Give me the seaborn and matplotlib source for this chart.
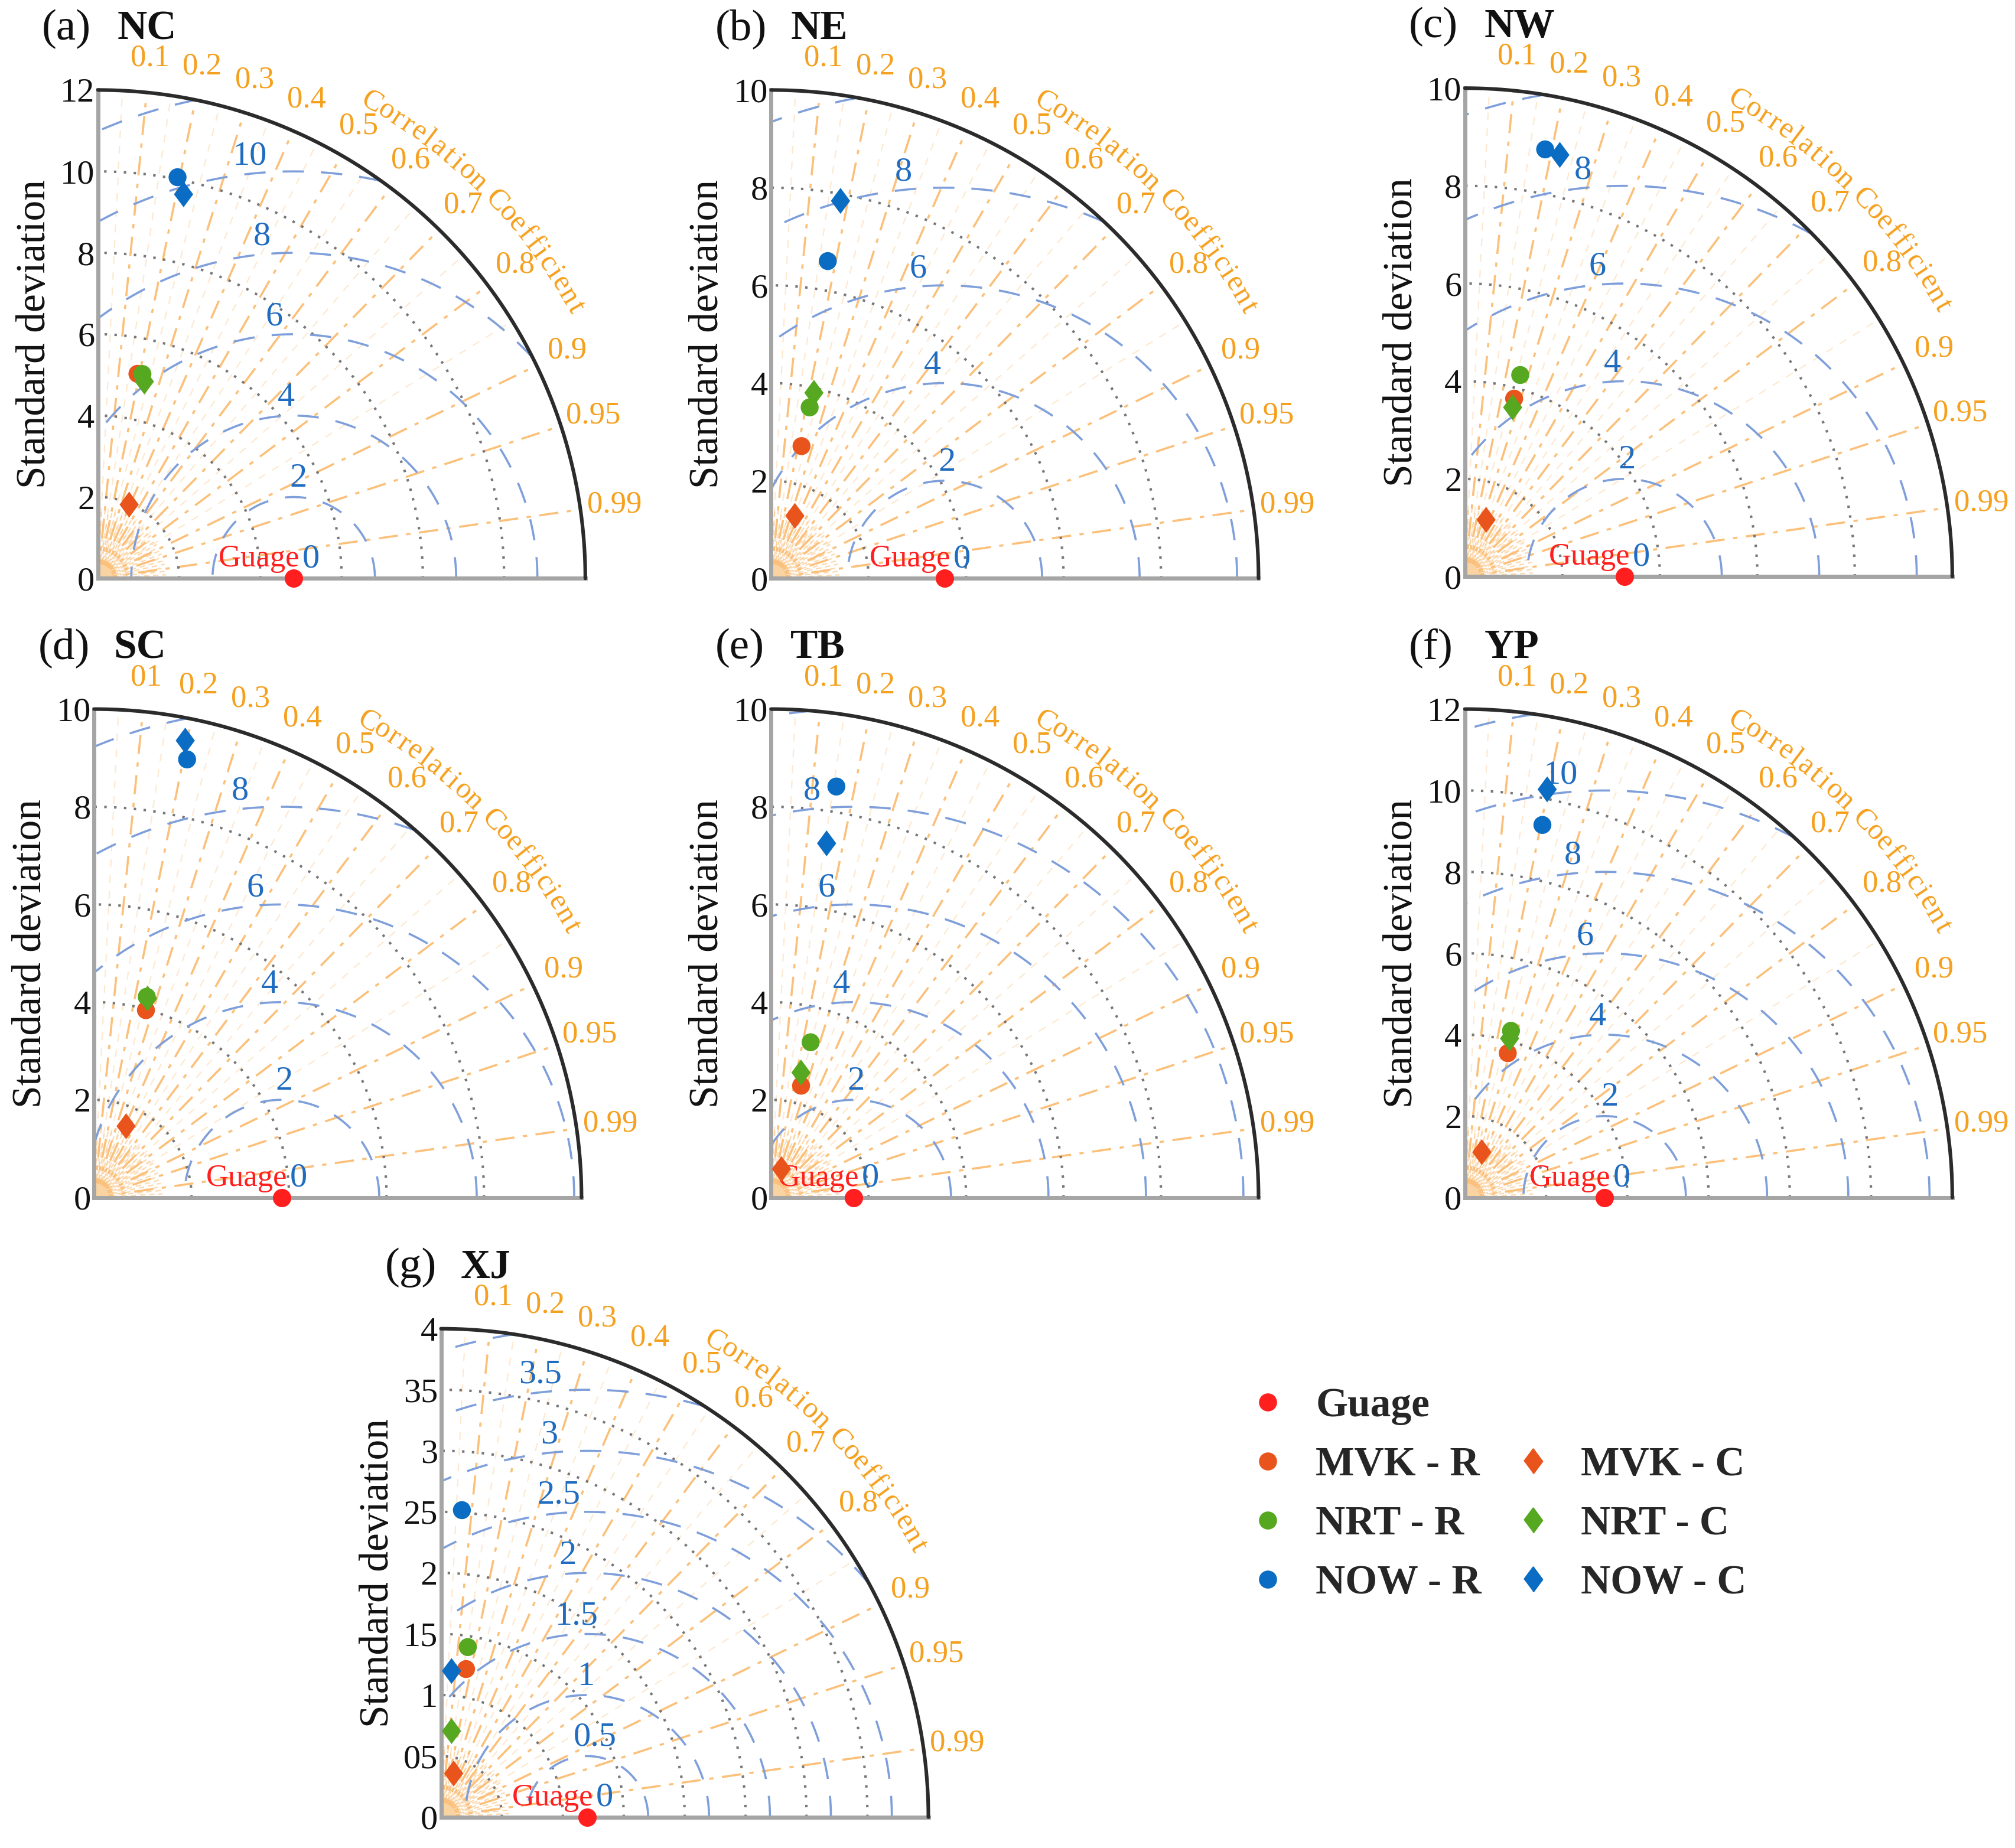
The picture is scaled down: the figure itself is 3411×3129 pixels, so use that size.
import numpy as np
import pandas as pd
import matplotlib
matplotlib.use("Agg")
import matplotlib.pyplot as plt
import seaborn as sns
from matplotlib.lines import Line2D
from matplotlib.textpath import TextPath
from matplotlib.font_manager import FontProperties

# ---- data ----
regions = ["NC", "NE", "NW", "SC", "TB", "YP", "XJ"]
letters = ["a", "b", "c", "d", "e", "f", "g"]
std_max = [12, 10, 10, 10, 10, 12, 4]
tick_step = [2, 2, 2, 2, 2, 2, 0.5]
guage_std = [4.82, 3.56, 3.27, 3.85, 1.69, 3.44, 1.20]

products_r = ["MVK - R", "NRT - R", "NOW - R"]
products_c = ["MVK - C", "NRT - C", "NOW - C"]

mvk_r_std = [5.12, 2.78, 3.78, 3.98, 2.37, 3.70, 1.23]
mvk_r_corr = [0.19, 0.224, 0.267, 0.267, 0.259, 0.285, 0.167]
nrt_r_std = [5.14, 3.59, 4.28, 4.25, 3.28, 4.25, 1.41]
nrt_r_corr = [0.213, 0.22, 0.265, 0.254, 0.247, 0.267, 0.156]
now_r_std = [10.05, 6.60, 8.90, 9.17, 8.52, 9.35, 2.52]
now_r_corr = [0.195, 0.176, 0.185, 0.208, 0.157, 0.204, 0.068]
mvk_c_std = [1.97, 1.37, 1.24, 1.60, 0.62, 1.19, 0.372]
mvk_c_corr = [0.39, 0.355, 0.35, 0.41, 0.34, 0.35, 0.28]
nrt_c_std = [4.97, 3.90, 3.60, 4.22, 2.63, 4.06, 0.71]
nrt_c_corr = [0.23, 0.225, 0.272, 0.26, 0.233, 0.271, 0.122]
now_c_std = [9.67, 7.86, 8.85, 9.54, 7.34, 10.23, 1.20]
now_c_corr = [0.218, 0.181, 0.22, 0.196, 0.155, 0.198, 0.072]

corr_ticks = [0.1, 0.2, 0.3, 0.4, 0.5, 0.6, 0.7, 0.8, 0.9, 0.95, 0.99]
corr_labels = ["0.1", "0.2", "0.3", "0.4", "0.5", "0.6", "0.7", "0.8", "0.9", "0.95", "0.99"]
corr_labels_sc = ["01"] + corr_labels[1:]
ytick_labels_xj = ["0", "05", "1", "15", "2", "25", "3", "35", "4"]

products = products_r + products_c
stds = [mvk_r_std, nrt_r_std, now_r_std, mvk_c_std, nrt_c_std, now_c_std]
corrs = [mvk_r_corr, nrt_r_corr, now_r_corr, mvk_c_corr, nrt_c_corr, now_c_corr]

rows = []
for p, s_list, c_list in zip(products, stds, corrs):
    for reg, s, c in zip(regions, s_list, c_list):
        rows.append({"region": reg, "product": p, "std": s, "corr": c})
df = pd.DataFrame(rows)
df["x"] = df["std"] * df["corr"]
df["y"] = df["std"] * np.sqrt(1 - df["corr"] ** 2)

ref = pd.DataFrame({"region": regions, "std": guage_std})
ref["y"] = 0.0

diamond = [(-0.74, 0.0), (0.0, 1.0), (0.74, 0.0), (0.0, -1.0)]
colors = {"MVK - R": "#E8541C", "NRT - R": "#56A821", "NOW - R": "#0A6CC2",
          "MVK - C": "#E8541C", "NRT - C": "#56A821", "NOW - C": "#0A6CC2"}
guage_color = "#FF1F1F"

# ---- style ----
sns.set_theme(style="white")
plt.rcParams["font.family"] = ["Liberation Serif", "DejaVu Serif"]

orange_line = "#FBC07A"
orange_text = "#F5A01E"
rms_color = "#7F9FDB"
rms_text = "#1F6CC0"

# spacing of the curved "Correlation Coefficient" label
arc_title = "Correlation Coefficient"
arc_fs = 18
fp = FontProperties(family="Liberation Serif", size=arc_fs)
adv = []
for ch in arc_title:
    if ch == " ":
        adv.append(0.55 * arc_fs)
    else:
        adv.append(TextPath((0, 0), ch, prop=fp).get_extents().width + 0.32 * arc_fs)
adv = np.array(adv)
centers = np.cumsum(adv) - adv / 2
arc_angles = 60 - (centers - centers[0]) / (centers[-1] - centers[0]) * 30.5

fig = plt.figure(figsize=(17.06, 15.645), dpi=200)

w, h = 0.2418, 0.2643
rects = [
    [0.0486, 0.687], [0.3826, 0.687], [0.7268, 0.688],
    [0.0467, 0.352], [0.3826, 0.352], [0.7268, 0.352],
    [0.2188, 0.0167],
]

theta = np.linspace(0, np.pi / 2, 400)

for i, reg in enumerate(regions):
    R = std_max[i]
    g = guage_std[i]
    step = tick_step[i]
    ax = fig.add_axes([rects[i][0], rects[i][1], w, h])
    ax.set_xlim(0, R)
    ax.set_ylim(0, R)
    ax.set_facecolor("white")

    # std arcs (dotted, centred on origin)
    yt = np.arange(0, R + step / 2, step)
    for r in yt[1:-1]:
        ax.plot(r * np.cos(theta), r * np.sin(theta), color="#777777",
                lw=1.5, ls=(0, (1, 3)), zorder=2)

    # correlation lines
    for c in np.arange(0.05, 0.9, 0.1):
        a = np.arccos(c)
        ax.plot([0, R * np.cos(a)], [0, R * np.sin(a)], color=orange_line,
                lw=0.8, ls=(0, (6, 6)), alpha=0.35, zorder=1)
    for c in corr_ticks:
        a = np.arccos(c)
        ax.plot([0, R * np.cos(a)], [0, R * np.sin(a)], color=orange_line,
                lw=1.3, ls=(0, (9, 4, 2, 4)), zorder=1)
    # fan near the origin
    for k, ang in enumerate(np.arange(3, 90, 3)):
        a = np.radians(ang)
        ax.plot([0, 0.14 * R * np.cos(a)], [0, 0.14 * R * np.sin(a)],
                color=orange_line, lw=0.8, ls=(k % 3 * 2, (4, 3)), alpha=0.6,
                zorder=1)
    ax.fill_between(0.03 * R * np.cos(theta), 0.03 * R * np.sin(theta),
                    color="#F9D3A2", lw=0, zorder=1)

    # RMS circles (dashed, centred on the reference)
    phi = np.linspace(0, np.pi, 800)
    for r in np.arange(step, 1.3 * R, step):
        xs = g + r * np.cos(phi)
        ys = r * np.sin(phi)
        keep = (xs >= 0) & (xs ** 2 + ys ** 2 <= R ** 2)
        xs = np.where(keep, xs, np.nan)
        ys = np.where(keep, ys, np.nan)
        ax.plot(xs, ys, color=rms_color, lw=1.3, ls=(0, (10, 8)), zorder=2)
    # RMS labels
    for r in np.arange(0, R, step):
        lx = g + 0.035 * R - 0.15 * r
        ly = 0.04 * R + 0.99 * r
        if np.hypot(lx, ly) < 0.97 * R:
            ax.text(lx, ly, f"{r:g}", color=rms_text, fontsize=21,
                    ha="center", va="center", zorder=4)
    ax.text(g + 0.012 * R, 0.04 * R, "Guage", color=guage_color, fontsize=19,
            ha="right", va="center", zorder=4)

    # outer arc
    ax.plot(R * np.cos(theta), R * np.sin(theta), color="#2b2b2b", lw=2.2,
            zorder=3, clip_on=False)

    # correlation tick labels
    labs = corr_labels_sc if reg == "SC" else corr_labels
    for c, lab in zip(corr_ticks, labs):
        a = np.arccos(c)
        ax.text(1.07 * R * np.cos(a), 1.07 * R * np.sin(a), lab,
                color=orange_text, fontsize=19, ha="center", va="center")
    for ch, ang in zip(arc_title, arc_angles):
        a = np.radians(ang)
        ax.text(1.125 * R * np.cos(a), 1.125 * R * np.sin(a), ch,
                color=orange_text, fontsize=arc_fs, ha="center", va="center",
                rotation=ang - 90, rotation_mode="anchor")

    # data points
    sub = df[df["region"] == reg]
    sns.scatterplot(data=sub[sub["product"].isin(products_r)], x="x", y="y",
                    hue="product", palette=colors, hue_order=products_r,
                    marker="o", s=120, linewidth=0, legend=False,
                    ax=ax, clip_on=False, zorder=6)
    sns.scatterplot(data=sub[sub["product"].isin(products_c)], x="x", y="y",
                    hue="product", palette=colors, hue_order=products_c,
                    marker=diamond, s=250, linewidth=0, legend=False,
                    ax=ax, clip_on=False, zorder=7)
    sns.scatterplot(data=ref[ref["region"] == reg], x="std", y="y",
                    color=guage_color, s=125, linewidth=0, legend=False,
                    ax=ax, clip_on=False, zorder=6)

    # axes decoration
    ax.set_xticks([])
    ax.set_yticks(yt)
    if reg == "XJ":
        ax.set_yticklabels(ytick_labels_xj)
    else:
        ax.set_yticklabels([f"{v:g}" for v in yt])
    ax.tick_params(axis="y", length=0, labelsize=21, pad=2, colors="#111111")
    ax.set_xlabel("")
    ax.set_ylabel("Standard deviation", fontsize=25, labelpad=4, color="#111111")
    for s in ["top", "right"]:
        ax.spines[s].set_visible(False)
    for s in ["left", "bottom"]:
        ax.spines[s].set_color("#A5A5A5")
        ax.spines[s].set_linewidth(2.5)
    ax.text(-0.115, 1.125, f"({letters[i]})", transform=ax.transAxes,
            fontsize=27, ha="left", va="center", color="#111111")
    ax.text(0.04, 1.125, reg, transform=ax.transAxes, fontsize=25,
            fontweight="bold", ha="left", va="center", color="#111111")

# ---- legend ----
handles = [
    Line2D([], [], ls="", marker="o", color=guage_color, markersize=10),
    Line2D([], [], ls="", marker="o", color=colors["MVK - R"], markersize=10),
    Line2D([], [], ls="", marker="o", color=colors["NRT - R"], markersize=10),
    Line2D([], [], ls="", marker="o", color=colors["NOW - R"], markersize=10),
    Line2D([], [], ls="", marker=""),
    Line2D([], [], ls="", marker=diamond, color=colors["MVK - C"], markersize=15),
    Line2D([], [], ls="", marker=diamond, color=colors["NRT - C"], markersize=15),
    Line2D([], [], ls="", marker=diamond, color=colors["NOW - C"], markersize=15),
]
labels = ["Guage", "MVK - R", "NRT - R", "NOW - R", "", "MVK - C", "NRT - C", "NOW - C"]
fig.legend(handles, labels, loc="upper left", bbox_to_anchor=(0.6188, 0.2493),
           ncol=2, frameon=False, borderpad=0, borderaxespad=0,
           handlelength=1.0, handletextpad=0.67, labelspacing=0.52,
           columnspacing=0.75,
           prop={"family": "Liberation Serif", "weight": "bold", "size": 25})

fig.savefig("out.png", dpi=200, facecolor="white")
